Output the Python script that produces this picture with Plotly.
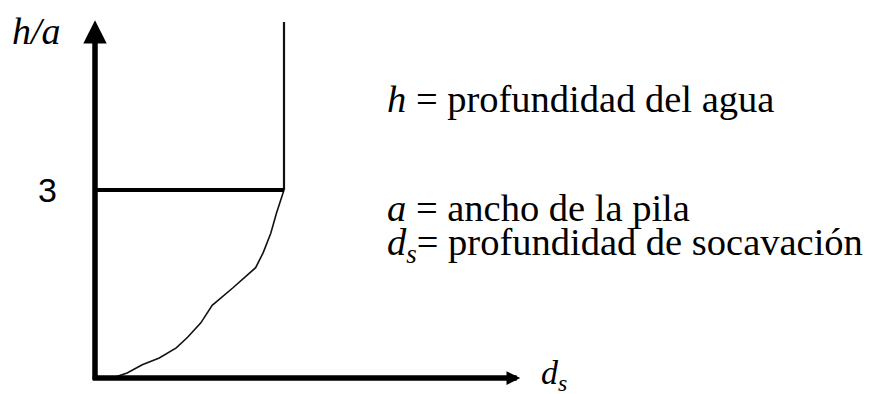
import plotly.graph_objects as go

# ---- data ----
ds_curve = [0.09, 0.17, 0.25, 0.34, 0.43, 0.49, 0.56, 0.62, 0.73, 0.85, 0.89, 0.93, 0.96, 0.995, 1.0]
ha_curve = [0.00, 0.08, 0.21, 0.32, 0.48, 0.65, 0.88, 1.16, 1.44, 1.76, 2.00, 2.31, 2.63, 2.95, 3.0]

ds_limit = [1.0, 1.0]          # equilibrium scour depth (vertical part)
ha_limit = [3.0, 5.68]

ds_level = [0.0, 1.0]          # h/a = 3 threshold
ha_level = [3.0, 3.0]

ytick_value = 3
ytick_label = "3"

x_axis_end = 2.25
y_axis_end = 5.71

legend_lines = [
    "<i>h</i> = profundidad del agua",
    "<i>a</i> = ancho de la pila",
    "<i>d<sub>s</sub></i>= profundidad de socavación",
]
legend_y = [4.45, 2.72, 2.12]

# ---- figure ----
W, H = 887, 394
# the page body adds an 8px offset; ranges are chosen so data map onto the reference pixels
x_range = [-0.4603, 4.2328]
y_range = [-0.383, 5.904]

fig = go.Figure()

fig.add_trace(go.Scatter(x=ds_curve, y=ha_curve, mode="lines",
                         line=dict(color="#111", width=1.6), hoverinfo="skip"))
fig.add_trace(go.Scatter(x=ds_limit, y=ha_limit, mode="lines",
                         line=dict(color="#111", width=2.2), hoverinfo="skip"))
fig.add_trace(go.Scatter(x=ds_level, y=ha_level, mode="lines",
                         line=dict(color="#000", width=4), hoverinfo="skip"))

# axes with arrows
fig.add_annotation(x=0, y=y_axis_end, ax=0, ay=-0.05, xref="x", yref="y",
                   axref="x", ayref="y", text="", showarrow=True,
                   arrowhead=2, arrowwidth=5.5, arrowsize=0.85, arrowcolor="#000")
fig.add_annotation(x=x_axis_end, y=0, ax=-0.02, ay=0, xref="x", yref="y",
                   axref="x", ayref="y", text="", showarrow=True,
                   arrowhead=2, arrowwidth=5.5, arrowsize=0.5, arrowcolor="#000")

serif = "Liberation Serif"
# axis labels
fig.add_annotation(x=-0.307, y=5.54, xref="x", yref="y", text="<i>h/a</i>",
                   showarrow=False, font=dict(family=serif, size=38, color="#000"),
                   xanchor="center", yanchor="middle")
fig.add_annotation(x=-0.249, y=ytick_value, xref="x", yref="y", text=ytick_label,
                   showarrow=False, font=dict(family="Liberation Sans", size=34, color="#000"),
                   xanchor="center", yanchor="middle")
fig.add_annotation(x=2.35, y=0.04, xref="x", yref="y", text="<i>d<sub>s</sub></i>",
                   showarrow=False, font=dict(family=serif, size=34, color="#000"),
                   xanchor="left", yanchor="middle")

# legend text
for txt, yy in zip(legend_lines, legend_y):
    fig.add_annotation(x=1.534, y=yy, xref="x", yref="y", text=txt,
                       showarrow=False, font=dict(family=serif, size=38.5, color="#000"),
                       xanchor="left", yanchor="middle")

fig.update_layout(
    width=W, height=H, margin=dict(l=0, r=0, t=0, b=0),
    paper_bgcolor="white", plot_bgcolor="white", showlegend=False,
    xaxis=dict(range=x_range, visible=False, fixedrange=True),
    yaxis=dict(range=y_range, visible=False, fixedrange=True),
)

fig.write_html("out.html")
